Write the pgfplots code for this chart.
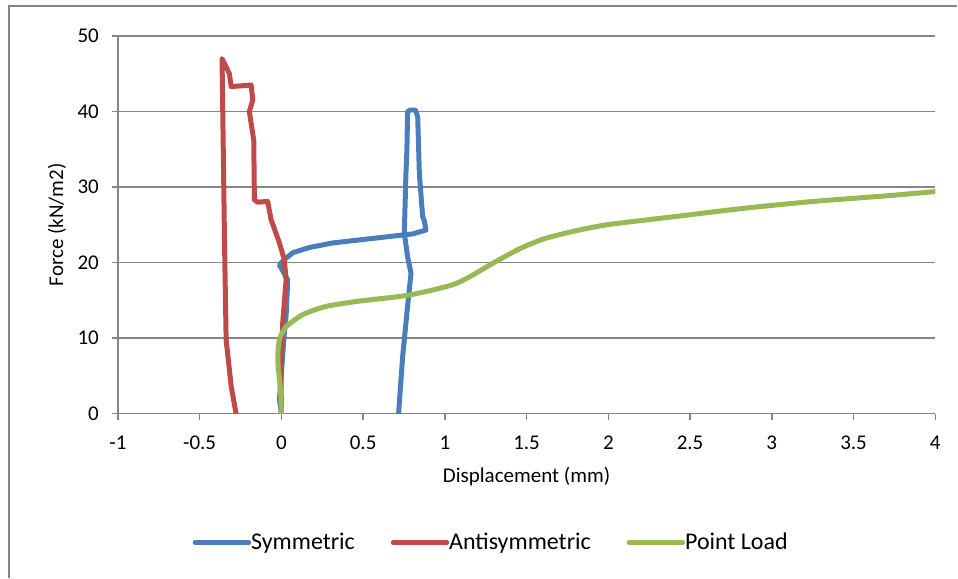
\documentclass[border=0pt]{standalone}
\usepackage{fontspec}
\setmainfont{Carlito}
\usepackage{pgfplots}
\pgfplotsset{compat=1.18}

\definecolor{symblue}{RGB}{74,126,187}
\definecolor{antired}{RGB}{190,75,72}
\definecolor{ptgreen}{RGB}{152,185,84}
\definecolor{gridgray}{RGB}{134,134,134}

\begin{document}
\begin{tikzpicture}
  \begin{axis}[
      scale only axis,
      width=409pt, height=189pt,
      at={(0,0)}, anchor=south west,
      xmin=-1, xmax=4, ymin=0, ymax=50,
      xtick={-1,-0.5,...,4},
      ytick={0,10,...,50},
      axis x line*=bottom,
      axis y line*=left,
      axis line style={draw=gridgray, line width=0.75pt, -},
      ymajorgrids=true,
      grid style={draw=gridgray, line width=0.75pt},
      tick align=outside,
      major tick length=3pt,
      tick style={draw=gridgray, line width=0.75pt},
      /pgf/number format/assume math mode=true,
      ticklabel style={font=\fontsize{10.5}{12}\selectfont},
      xticklabel style={yshift=-4.5pt},
      yticklabel style={xshift=-3pt},
      xlabel={Displacement (mm)},
      ylabel={Force (kN/m2)},
      every axis x label/.style={at={(axis description cs:0.5,-0.1667)}, anchor=center, font=\fontsize{10.5}{12}\selectfont},
      every axis y label/.style={at={(axis description cs:-0.0746,0.5)}, rotate=90, anchor=center, font=\fontsize{10.5}{12}\selectfont},
      legend columns=3,
      legend style={at={(axis description cs:0.458,-0.341)}, anchor=center, draw=none, fill=none,
        font=\fontsize{12}{14}\selectfont, /tikz/every even column/.append style={column sep=16pt},
        /tikz/every odd column/.append style={column sep=-2pt}},
      legend image code/.code={\draw[#1, line width=2.2pt, line cap=round] (0pt,0pt) -- (27pt,0pt);},
      every axis plot/.append style={line width=2.5pt, line cap=round, line join=round},
    ]
    % Symmetric
    \addplot[symblue] coordinates {
      (0,0) (-0.012,1.9) (0.018,10.7) (0.029,13) (0.039,17.7) (-0.012,19.7)
      (0.008,20.2) (0.069,21.3) (0.171,22) (0.314,22.6) (0.517,23.1)
      (0.803,23.8) (0.884,24.3) (0.875,25.5) (0.864,26.1) (0.844,31.8)
      (0.834,39.3) (0.82,40.2) (0.79,40.2) (0.772,40) (0.768,35)
      (0.762,31.8) (0.752,23.9) (0.772,20.8) (0.793,18.6) (0.772,14.2)
      (0.742,7.6) (0.717,0)
    };
    % Antisymmetric
    \addplot[antired] coordinates {
      (0,0) (-0.002,5.4) (0.008,12) (0.029,17.7) (0.018,20.4) (-0.012,22.6)
      (-0.063,25.7) (-0.084,28.1) (-0.145,28) (-0.165,28.3) (-0.169,36.2)
      (-0.196,40) (-0.175,41.5) (-0.185,43.5) (-0.307,43.3) (-0.318,45)
      (-0.363,47) (-0.359,40.6) (-0.348,23) (-0.338,9.8) (-0.307,3.6)
      (-0.277,0)
    };
    % Point Load
    \addplot[ptgreen, smooth, tension=0.4] coordinates {
      (0,0) (-0.005,3) (-0.022,7.1) (-0.012,9.8) (0.029,11.5) (0.13,13.1)
      (0.273,14.2) (0.477,14.9) (0.782,15.7) (1.038,17.0) (1.15,18.1)
      (1.292,19.9) (1.455,21.8) (1.6,23.1) (1.778,24.1) (1.989,25)
      (2.411,26.1) (2.834,27.2) (3.257,28.1) (3.679,28.8) (4,29.4)
    };
    \legend{Symmetric, Antisymmetric, Point Load}
  \end{axis}
  \draw[gridgray, line width=0.75pt] (-54.5pt,-82pt) -- (-54.5pt,204pt) -- (420pt,204pt);
  \path[use as bounding box] (-59pt,-82pt) rectangle (420pt,207pt);
\end{tikzpicture}
\end{document}
